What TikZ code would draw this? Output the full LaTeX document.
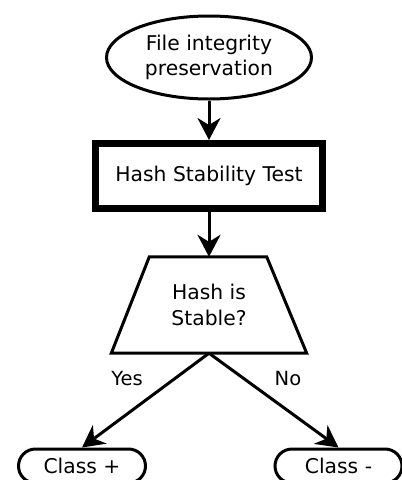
\documentclass[tikz,border=0pt]{standalone}
\usepackage{fontspec}
\setmainfont{DejaVu Sans}
\usetikzlibrary{shapes.geometric,shapes.misc,arrows.meta,calc}
\begin{document}
\begin{tikzpicture}[x=1pt,y=-1pt,
  font=\fontsize{20.3}{25.5}\selectfont,
  every node/.style={align=center, inner sep=0pt},
  startbox/.style={ellipse, draw, line width=3pt, minimum width=205pt, minimum height=83pt},
  procbox/.style={rectangle, draw, line width=7pt, minimum width=227pt, minimum height=65pt},
  decbox/.style={minimum width=195pt, minimum height=96pt},
  endbox/.style={rounded rectangle, draw, line width=3pt, minimum width=127pt, minimum height=34pt},
  flow/.style={line width=3pt, -{Stealth[length=22pt,width=23pt,inset=7pt]}},
  edgelabel/.style={font=\fontsize{19.5}{22}\selectfont}
]
\useasboundingbox (0,0) rectangle (402,480);

% start ellipse
\node[startbox] (start) at (209,57.5) {File integrity\\preservation};
% process box
\node[procbox] (test) at (209,176) {Hash Stability Test};
% decision trapezium (drawn around an invisible node)
\node[decbox] (dec) at (209,305) {Hash is\\Stable?};
\draw[line width=3pt, line join=miter]
  (dec.south west) -- ($(dec.north west)+(38,0)$) -- ($(dec.north east)+(-40,0)$)
  -- (dec.south east) -- cycle;
% outcomes
\node[endbox] (yes) at (82,466) {Class +};
\node[endbox] (no) at (338.5,466) {Class -};

% connectors
\draw[flow] (start.south) -- (test.north);
\draw[flow] (test.south) -- (dec.north);
\draw[flow] (dec.south) -- (yes.north);
\draw[flow] (dec.south) -- (no.north);

% branch labels
\node[edgelabel] (lyes) at (127,379) {Yes};
\node[edgelabel] (lno) at (288,379) {No};
\end{tikzpicture}
\end{document}
